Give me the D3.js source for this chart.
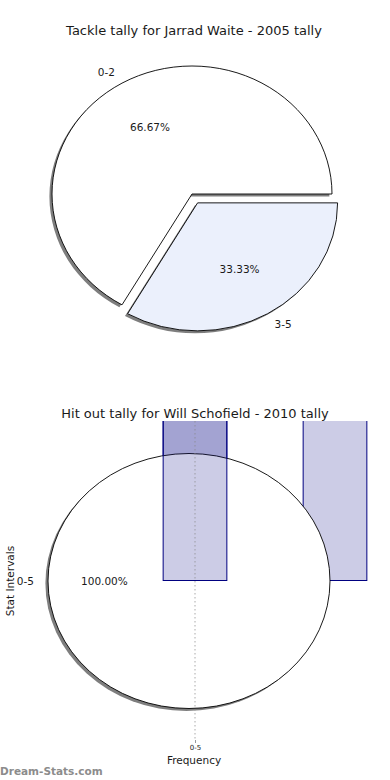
<!DOCTYPE html>
<html><head><meta charset="utf-8">
<script src="https://cdn.jsdelivr.net/npm/d3@7"></script>
<style>body{margin:0;background:#fff}svg{display:block}text{font-family:"DejaVu Sans",sans-serif;fill:#1a1a1a}</style>
</head><body>
<script>
// ---- data ----
const title1 = "Tackle tally for Jarrad Waite - 2005 tally";
const pie1Labels = ["0-2", "3-5"];
const pie1Values = [2, 1];
const pie1Colors = ["#ffffff", "#ebf0fc"];
const pie1Explode = [0, 0.08];

const title2 = "Hit out tally for Will Schofield - 2010 tally";
const pie2Labels = ["0-5"];
const pie2Values = [1];
const xTickLabels = ["0-5"];
const backBarPositions = [0, 1];
const backBarValues = [1.3, 1.3];
const frontBarPositions = [0];
const frontBarValues = [1.3];

const W = 390, H = 780;
const svg = d3.select("body").append("svg").attr("width", W).attr("height", H);
const defs = svg.append("defs");
defs.append("filter").attr("id","blur").append("feGaussianBlur").attr("stdDeviation",0.4);

function fmtPct(v){ return v.toFixed(2) + "%"; }

function drawPie(g, cx, cy, rx, ry, labels, values, colors, explode){
  const R = 100;
  const sx = rx / R, sy = ry / R;
  const total = d3.sum(values);
  const pie = d3.pie().sort(null).startAngle(Math.PI/2).endAngle(Math.PI/2 - 2*Math.PI);
  const arcs = pie(values);
  const arc = d3.arc().innerRadius(0).outerRadius(R);
  const items = arcs.map((a,i)=>{
    const mid = (a.startAngle + a.endAngle)/2;
    const ux = Math.sin(mid), uy = -Math.cos(mid);
    const e = explode[i] || 0;
    return {a, i, ux, uy, ox: ux*e*rx, oy: uy*e*ry};
  });
  items.forEach(d=>{
    g.append("g").attr("transform",`translate(${cx+d.ox-2.6},${cy+d.oy+2.4}) scale(${sx},${sy})`)
      .append("path").attr("d", arc(d.a)).attr("fill","#000").attr("opacity",0.5).attr("filter","url(#blur)");
  });
  items.forEach(d=>{
    g.append("g").attr("transform",`translate(${cx+d.ox},${cy+d.oy}) scale(${sx},${sy})`)
      .append("path").attr("d", arc(d.a)).attr("fill", colors[d.i]).attr("stroke","#000")
      .attr("stroke-width",0.9).attr("vector-effect","non-scaling-stroke");
  });
  items.forEach(d=>{
    const px = cx + d.ox + d.ux*0.6*rx, py = cy + d.oy + d.uy*0.6*ry;
    g.append("text").attr("x",px).attr("y",py).attr("text-anchor","middle").attr("dy","0.35em")
      .attr("font-size","10.5px").text(fmtPct(values[d.i]/total*100));
    const lx = cx + d.ox + d.ux*1.1*rx, ly = cy + d.oy + d.uy*1.1*ry;
    g.append("text").attr("x",lx).attr("y",ly).attr("dy","0.35em")
      .attr("text-anchor", d.ux < -1e-9 ? "end" : "start")
      .attr("font-size","10.5px").text(labels[d.i]);
  });
}

// ---- top chart ----
svg.append("text").attr("x",194).attr("y",30).attr("dy","0.35em").attr("text-anchor","middle")
  .attr("font-size","13px").text(title1);
drawPie(svg.append("g"), 192, 194, 140, 128, pie1Labels, pie1Values, pie1Colors, pie1Explode);

// ---- bottom chart ----
const axTop = 421, axBottom = 740;
const x = d3.scaleLinear().domain([0,1]).range([195, 335]);
const y = d3.scaleLinear().domain([-1,1]).range([axBottom, axTop]);
const bw = x(0.455) - x(0);

defs.append("clipPath").attr("id","axclip").append("rect")
  .attr("x",0).attr("y",axTop).attr("width",W).attr("height",axBottom-axTop);

svg.append("text").attr("x",195).attr("y",413).attr("dy","0.35em").attr("text-anchor","middle")
  .attr("font-size","13px").text(title2);

const barFill = "#000080";
svg.append("g").attr("clip-path","url(#axclip)").selectAll("rect").data(backBarPositions).join("rect")
  .attr("x", (d)=>x(d)-bw/2).attr("width", bw)
  .attr("y", (d,i)=>y(backBarValues[i])).attr("height", (d,i)=>y(0)-y(backBarValues[i]))
  .attr("fill", barFill).attr("fill-opacity",0.2).attr("stroke","#000080").attr("stroke-width",1);

drawPie(svg.append("g"), 189, 581, 141, 127.5, pie2Labels, pie2Values, ["#ffffff"], [0]);

svg.append("g").attr("clip-path","url(#axclip)").selectAll("rect").data(frontBarPositions).join("rect")
  .attr("x", (d)=>x(d)-bw/2).attr("width", bw)
  .attr("y", (d,i)=>y(frontBarValues[i])).attr("height", (d,i)=>y(0)-y(frontBarValues[i]))
  .attr("fill", barFill).attr("fill-opacity",0.2).attr("stroke","#000080").attr("stroke-width",1);

// grid + x axis
const xAxis = svg.append("g").attr("transform",`translate(0,${axBottom})`)
  .call(d3.axisBottom(x).tickValues([0]).tickFormat((d,i)=>xTickLabels[i]).tickSize(3).tickPadding(2));
xAxis.select(".domain").remove();
xAxis.selectAll("line").attr("stroke","#999");
xAxis.selectAll("text").attr("font-size","7px").attr("font-family","DejaVu Sans").attr("fill","#1a1a1a");
svg.append("g").selectAll("line").data([0]).join("line")
  .attr("x1",d=>x(d)).attr("x2",d=>x(d)).attr("y1",axTop).attr("y2",axBottom)
  .attr("stroke","#888").attr("stroke-opacity",0.7).attr("stroke-dasharray","1.5,2.5").attr("stroke-width",1);

svg.append("text").attr("x",194).attr("y",760).attr("dy","0.35em").attr("text-anchor","middle")
  .attr("font-size","10.5px").text("Frequency");
svg.append("text").attr("transform","translate(10,581) rotate(-90)").attr("dy","0.35em")
  .attr("text-anchor","middle").attr("font-size","10.5px").text("Stat Intervals");

svg.append("text").attr("x",0).attr("y",771).attr("dy","0.35em").attr("font-size","10.5px")
  .attr("font-weight","bold").style("fill","#8c8c8c").text("Dream-Stats.com");
</script>
</body></html>
